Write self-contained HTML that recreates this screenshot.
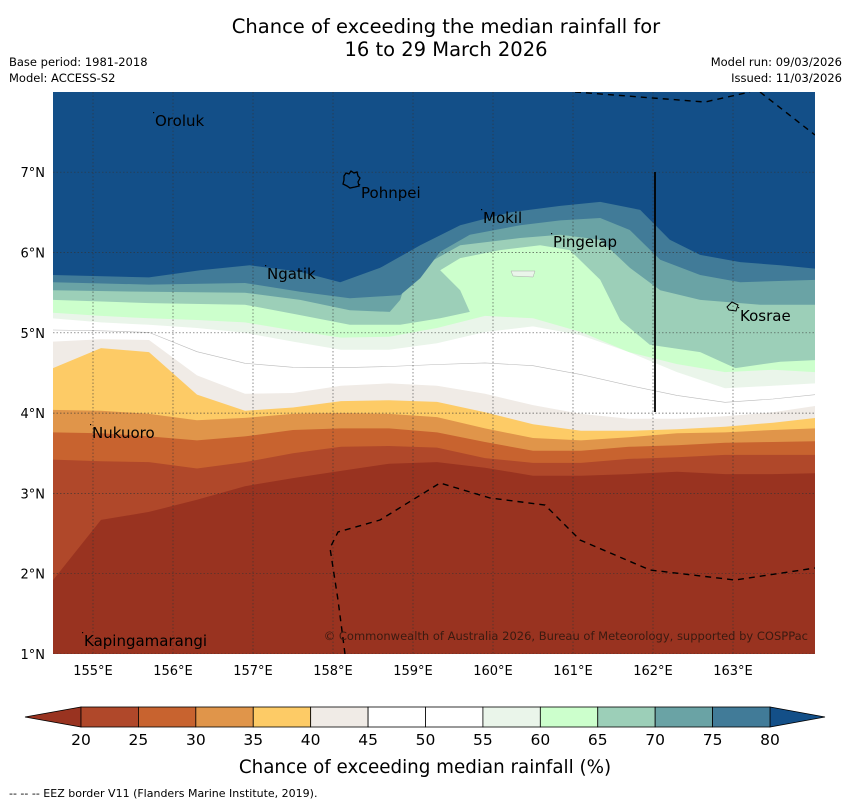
<!DOCTYPE html>
<html><head><meta charset="utf-8">
<style>
body{margin:0;background:#fff;width:850px;height:804px;overflow:hidden;font-family:"DejaVu Sans","Liberation Sans",sans-serif}
svg{display:block}
</style></head>
<body>
<svg id="chart" width="850" height="804" xmlns="http://www.w3.org/2000/svg">
<text x="446" y="33" text-anchor="middle" font-size="19.5">Chance of exceeding the median rainfall for</text>
<text x="446" y="56" text-anchor="middle" font-size="19.5">16 to 29 March 2026</text>
<text x="9" y="66" font-size="11.5">Base period: 1981-2018</text>
<text x="9" y="82" font-size="11.5">Model: ACCESS-S2</text>
<text x="842" y="66" text-anchor="end" font-size="11.5">Model run: 09/03/2026</text>
<text x="842" y="82" text-anchor="end" font-size="11.5">Issued: 11/03/2026</text>
<defs><clipPath id="mapclip"><rect x="53" y="92" width="762" height="562"/></clipPath></defs>
<g id="map" clip-path="url(#mapclip)"></g>
<g id="overlay"></g>
<g id="cbar"></g>
<text x="425" y="773" text-anchor="middle" font-size="18.3">Chance of exceeding median rainfall (%)</text>
<text x="9" y="797" font-size="11">--  --  -- EEZ border V11 (Flanders Marine Institute, 2019).</text>
</svg>
<script>
const G=[154.5,155.1,155.7,156.3,156.9,157.5,158.1,158.7,159.3,159.9,160.5,161.1,161.7,162.3,162.9,163.5,164.03];
const lat20=[1.92,2.67,2.77,2.92,3.09,3.19,3.28,3.37,3.39,3.32,3.22,3.22,3.24,3.27,3.24,3.24,3.25];
const lat25=[3.42,3.40,3.39,3.31,3.39,3.50,3.58,3.59,3.57,3.44,3.38,3.38,3.43,3.45,3.48,3.48,3.48];
const lat30=[3.76,3.75,3.71,3.66,3.71,3.79,3.81,3.81,3.76,3.64,3.53,3.53,3.58,3.60,3.63,3.64,3.65];
const lat35=[4.04,4.03,3.99,3.91,3.94,3.99,4.00,3.99,3.95,3.81,3.69,3.66,3.70,3.75,3.76,3.79,3.81];
const lat40=[4.56,4.81,4.76,4.23,4.03,4.07,4.15,4.16,4.14,4.01,3.86,3.78,3.78,3.80,3.83,3.88,3.94];
const lat45=[4.89,4.92,4.91,4.47,4.24,4.25,4.34,4.37,4.34,4.24,4.10,3.99,3.93,3.93,3.96,4.01,4.09];
const lat55=[5.18,5.13,5.10,5.06,5.00,4.89,4.79,4.79,4.87,5.01,5.08,4.97,4.76,4.51,4.31,4.34,4.37];
const lat60=[5.25,5.21,5.18,5.16,5.13,5.03,4.94,4.95,5.06,5.21,5.18,5.01,4.76,4.61,4.51,4.54,4.51];
const lon65=[154.5,155.7,156.9,157.59,158.21,158.84,159.34,159.71,159.59,159.34,159.59,160.09,160.59,160.96,161.34,161.59,161.96,162.59,163.03,163.59,164.03];
const lat65=[5.41,5.37,5.35,5.22,5.10,5.10,5.18,5.26,5.53,5.78,5.93,6.03,6.09,6.03,5.66,5.16,4.85,4.76,4.56,4.64,4.66];
const lon70=[154.5,155.7,156.9,157.59,158.21,158.71,158.84,158.9,159.21,159.59,160.34,160.84,161.34,161.71,162.09,162.59,163.34,164.03];
const lat70=[5.53,5.51,5.50,5.41,5.28,5.26,5.41,5.60,5.88,6.09,6.18,6.22,6.16,5.81,5.53,5.41,5.35,5.35];
const lon75=[154.5,155.7,156.9,157.59,158.21,158.84,159.09,159.34,159.71,160.34,160.84,161.34,161.71,162.09,162.59,163.09,164.03];
const lat75=[5.63,5.60,5.62,5.51,5.43,5.47,5.68,6.01,6.22,6.34,6.40,6.43,6.28,5.91,5.72,5.63,5.66];
const lon80=[154.5,155.7,156.34,156.96,157.59,158.09,158.59,159.09,159.59,160.21,160.84,161.34,161.84,162.21,162.59,163.09,163.59,164.03];
const lat80=[5.72,5.69,5.78,5.84,5.76,5.63,5.81,6.09,6.34,6.50,6.58,6.63,6.53,6.16,5.97,5.88,5.84,5.80];
const levels=[20,25,30,35,40,45,50,55,60,65,70,75,80];
const colors=['#b0482a','#c8632f','#e0954a','#fdcb66','#f0ebe6','#ffffff','#ffffff','#eaf5ea','#ccffcc','#9ccfb8','#6aa3a5','#417b98'];
const under='#993320', over='#134f88';
const lonTicks=[155,156,157,158,159,160,161,162,163];
const latTicks=[1,2,3,4,5,6,7];
const xs=lon=>93+(lon-155)*80;
const ys=lat=>654-(lat-1)*80.3;
const NS='http://www.w3.org/2000/svg';
function mk(tag,attrs,parent){const e=document.createElementNS(NS,tag);for(const k in attrs)e.setAttribute(k,attrs[k]);parent.appendChild(e);return e;}
const map=document.getElementById('map');
const ov=document.getElementById('overlay');
const bg=mk('rect',{x:53,y:92,width:762,height:562,fill:under},map);


const bands=[[G,lat20,colors[0]],[G,lat25,colors[1]],[G,lat30,colors[2]],[G,lat35,colors[3]],[G,lat40,colors[4]],[G,lat45,colors[5]],[G,lat55,colors[7]],[G,lat60,colors[8]],[lon65,lat65,colors[9]],[lon70,lat70,colors[10]],[lon75,lat75,colors[11]],[lon80,lat80,over]];
const bandNames=['band-20-25','band-25-30','band-30-35','band-35-40','band-40-45','band-45-55','band-55-60','band-60-65','band-65-70','band-70-75','band-75-80','band-above-80'];
bands.forEach((b,i)=>{
  let d='M'+xs(b[0][0])+','+ys(b[1][0]);
  for(let j=1;j<b[0].length;j++)d+=' L'+xs(b[0][j]).toFixed(1)+','+ys(b[1][j]).toFixed(1);
  d+=' L830,80 L40,80 Z';
  const p=mk('path',{d:d,fill:b[2]},map);
  
  
});
const lat50=lat45.map((v,i)=>(v+lat55[i])/2);
let d50='M'+G.map((l,i)=>xs(l).toFixed(1)+','+ys(lat50[i]).toFixed(1)).join(' L');
const c50=mk('path',{d:d50,fill:'none',stroke:'#bbb','stroke-width':0.6},map);


const sp=mk('path',{d:'M511,271 L535,271 L533,277 L513,276 Z',fill:'#eaf5ea',stroke:'#aaa','stroke-width':0.5},map);


lonTicks.forEach(l=>{const g=mk('line',{x1:xs(l),x2:xs(l),y1:92,y2:654,stroke:'#333','stroke-width':0.7,'stroke-dasharray':'1.5,2','opacity':0.8},map);

});
latTicks.forEach(l=>{const g=mk('line',{x1:53,x2:815,y1:ys(l),y2:ys(l),stroke:'#333','stroke-width':0.7,'stroke-dasharray':'1.5,2','opacity':0.8},map);

});
['M575,92 L705,102 L750,92','M760,92 L815,135','M345,654 L338,600 L330,548 L338,532 L380,520 L440,483 L490,498 L545,505 L580,540 L650,570 L735,580 L815,568'].forEach(dd=>{
 const e=mk('path',{d:dd,fill:'none',stroke:'#000','stroke-width':1.4,'stroke-dasharray':'6,5'},map);
 
 });
const vl=mk('line',{x1:655,x2:655,y1:172,y2:412,stroke:'#000','stroke-width':1.8},map);


const pi=mk('path',{d:'M344,176 L346,173 L349,174 L351,171 L354,173 L357,172 L358,176 L360,178 L358,182 L359,186 L355,187 L350,188 L347,186 L343,184 L344,180 Z',fill:'none',stroke:'#000','stroke-width':1.3},map);


const ko=mk('path',{d:'M727,307 L732,302 L738,305 L736,311 L729,310 Z',fill:'none',stroke:'#000','stroke-width':1},map);


const places=[['Oroluk',155,126],['Pohnpei',361,198],['Mokil',483,223],['Pingelap',553,247],['Ngatik',267,279],['Kosrae',740,321],['Nukuoro',92,438],['Kapingamarangi',84,646]];
places.forEach(p=>{const t=mk('text',{x:p[1],y:p[2],'font-size':15,fill:'#000'},map);t.textContent=p[0];


const dot=mk('rect',{x:p[1]-2,y:p[2]-14,width:1.2,height:1.2,fill:'#000'},map);

});
const cp=mk('text',{x:808,y:640,'text-anchor':'end','font-size':11.5,fill:'#3a1a10'},map);
cp.textContent='© Commonwealth of Australia 2026, Bureau of Meteorology, supported by COSPPac';


lonTicks.forEach(l=>{const t=mk('text',{x:xs(l),y:675,'text-anchor':'middle','font-size':13},ov);t.textContent=l+'°E';

});
latTicks.forEach(l=>{const t=mk('text',{x:45,y:ys(l)+5,'text-anchor':'end','font-size':13},ov);t.textContent=l+'°N';

});
const cb=document.getElementById('cbar');
const cbx=l=>81+(l-20)*(689/60);
const lt=mk('polygon',{points:'25,717 81,707 81,727',fill:under,stroke:'#000','stroke-width':0.8},cb);


const rt=mk('polygon',{points:'825,717 770,707 770,727',fill:over,stroke:'#000','stroke-width':0.8},cb);


colors.forEach((c,i)=>{const r=mk('rect',{x:cbx(levels[i]),y:707,width:cbx(levels[i+1])-cbx(levels[i]),height:20,fill:c,stroke:'#000','stroke-width':0.8},cb);

});
levels.forEach(l=>{const t=mk('text',{x:cbx(l),y:745,'text-anchor':'middle','font-size':15.5},cb);t.textContent=l;

});
</script>
</body></html>
